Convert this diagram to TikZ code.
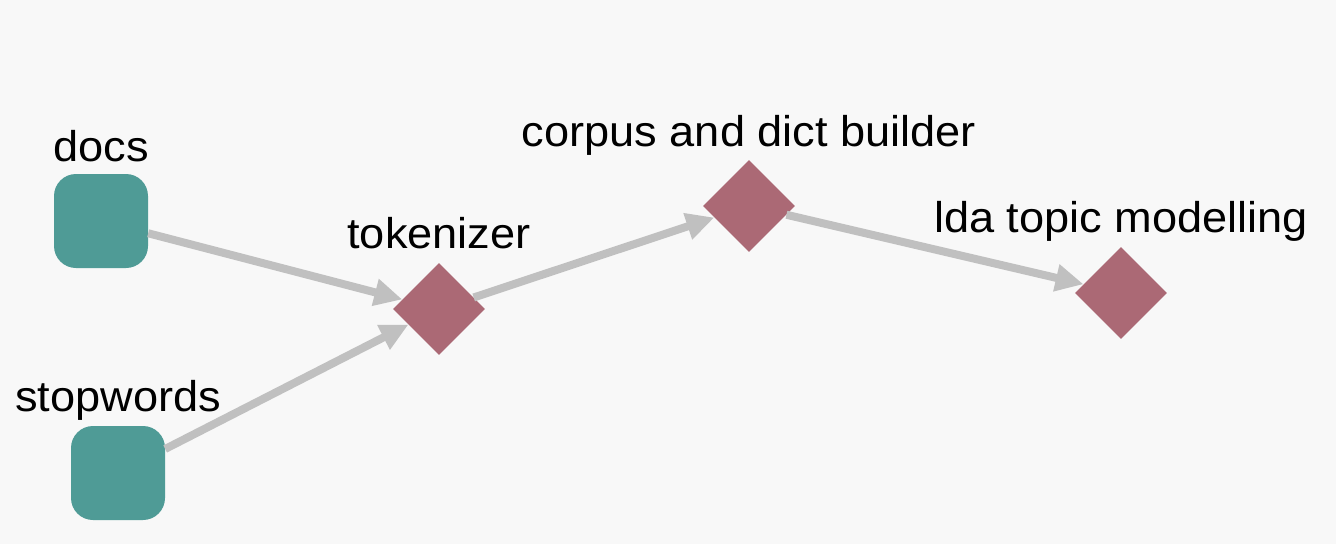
\documentclass[tikz,border=0pt]{standalone}
\usepackage{fontspec}
\setmainfont{Liberation Sans}
\newfontfamily\lblfont[FakeStretch=1.05]{Liberation Sans}
\usetikzlibrary{shapes.geometric,arrows.meta}
\definecolor{bgcol}{HTML}{F8F8F8}
\definecolor{srccol}{HTML}{4F9B96}
\definecolor{proccol}{HTML}{AB6975}
\definecolor{edgecol}{HTML}{C0C0C0}
\begin{document}
\begin{tikzpicture}[x=1pt,y=-1pt,
  srcnode/.style={rectangle, rounded corners=22pt, fill=srccol, minimum size=94pt, inner sep=0pt},
  procnode/.style={diamond, aspect=1, fill=proccol, minimum width=92pt, minimum height=92pt, inner sep=0pt},
  lbl/.style={anchor=base, font=\lblfont\fontsize{43}{50}\selectfont, text=black, inner sep=0pt},
  flow/.style={draw=edgecol, line width=8pt, -{Triangle[length=28pt,width=26pt]}}]
\fill[bgcol] (0,0) rectangle (1336,544);
\useasboundingbox (0,0) rectangle (1336,544);

\node[srcnode] (docs) at (101,221) {};
\node[srcnode] (stop) at (118,473) {};
\node[procnode] (tok) at (439,309) {};
\node[procnode] (corp) at (749,206) {};
\node[procnode] (lda) at (1121,293) {};

\node[lbl] (docsL) at ([yshift=12pt]docs.north) {docs};
\node[lbl] (stopL) at ([yshift=14pt]stop.north) {stopwords};
\node[lbl] (tokL) at ([yshift=14pt]tok.north) {tokenizer};
\node[lbl] (corpL) at ([yshift=13pt]corp.north) {corpus and dict builder};
\node[lbl] (ldaL) at ([yshift=14pt]lda.north) {lda topic modelling};

\draw[flow] (docs) -- (tok);
\draw[flow] (stop) -- (tok);
\draw[flow] (tok) -- (corp);
\draw[flow] (corp) -- (lda);
\end{tikzpicture}
\end{document}
